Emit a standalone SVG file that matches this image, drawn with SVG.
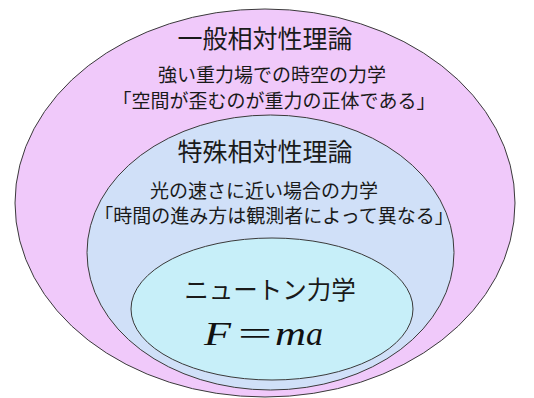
<svg xmlns="http://www.w3.org/2000/svg" width="534" height="398" viewBox="0 0 534 398">
<style>
.e{stroke:#3a3a3a;stroke-width:1}
.t{font-family:"Noto Sans CJK JP","Noto Sans",sans-serif;fill:#1a1a1a;text-anchor:middle}
.h{font-size:25px}
.s{font-size:19px}
.m{font-family:"Liberation Serif","DejaVu Serif",serif;font-size:33px;fill:#111}
</style>
<rect width="534" height="398" fill="#ffffff"/>
<g id="general-relativity">
<ellipse class="e" cx="265" cy="203" rx="250" ry="194" fill="#f0c9fa"/>
<text class="t h" x="265" y="48">一般相対性理論</text>
<text class="t s" x="272" y="81.7">強い重力場での時空の力学</text>
<text class="t s" x="274" y="107.7">「空間が歪むのが重力の正体である」</text>
</g>
<g id="special-relativity">
<ellipse class="e" cx="270.5" cy="252.5" rx="183.5" ry="137.5" fill="#d0e0f8"/>
<text class="t h" x="265" y="160.5">特殊相対性理論</text>
<text class="t s" x="264" y="197.7">光の速さに近い場合の力学</text>
<text class="t s" x="274" y="222.7">「時間の進み方は観測者によって異なる」</text>
</g>
<g id="newtonian-mechanics">
<ellipse class="e" cx="272" cy="309" rx="141" ry="71" fill="#c7eff9"/>
<text class="t" x="270" y="299.3" font-size="24.5">ニュートン力学</text>
<text class="m" y="345"><tspan x="204" font-style="italic" textLength="27" lengthAdjust="spacingAndGlyphs">F</tspan><tspan x="238" textLength="34" lengthAdjust="spacingAndGlyphs">=</tspan><tspan x="275" font-style="italic" textLength="31" lengthAdjust="spacingAndGlyphs">m</tspan><tspan x="306" font-style="italic" textLength="17" lengthAdjust="spacingAndGlyphs">a</tspan></text>
</g>
<g id="connectors"></g>
</svg>
